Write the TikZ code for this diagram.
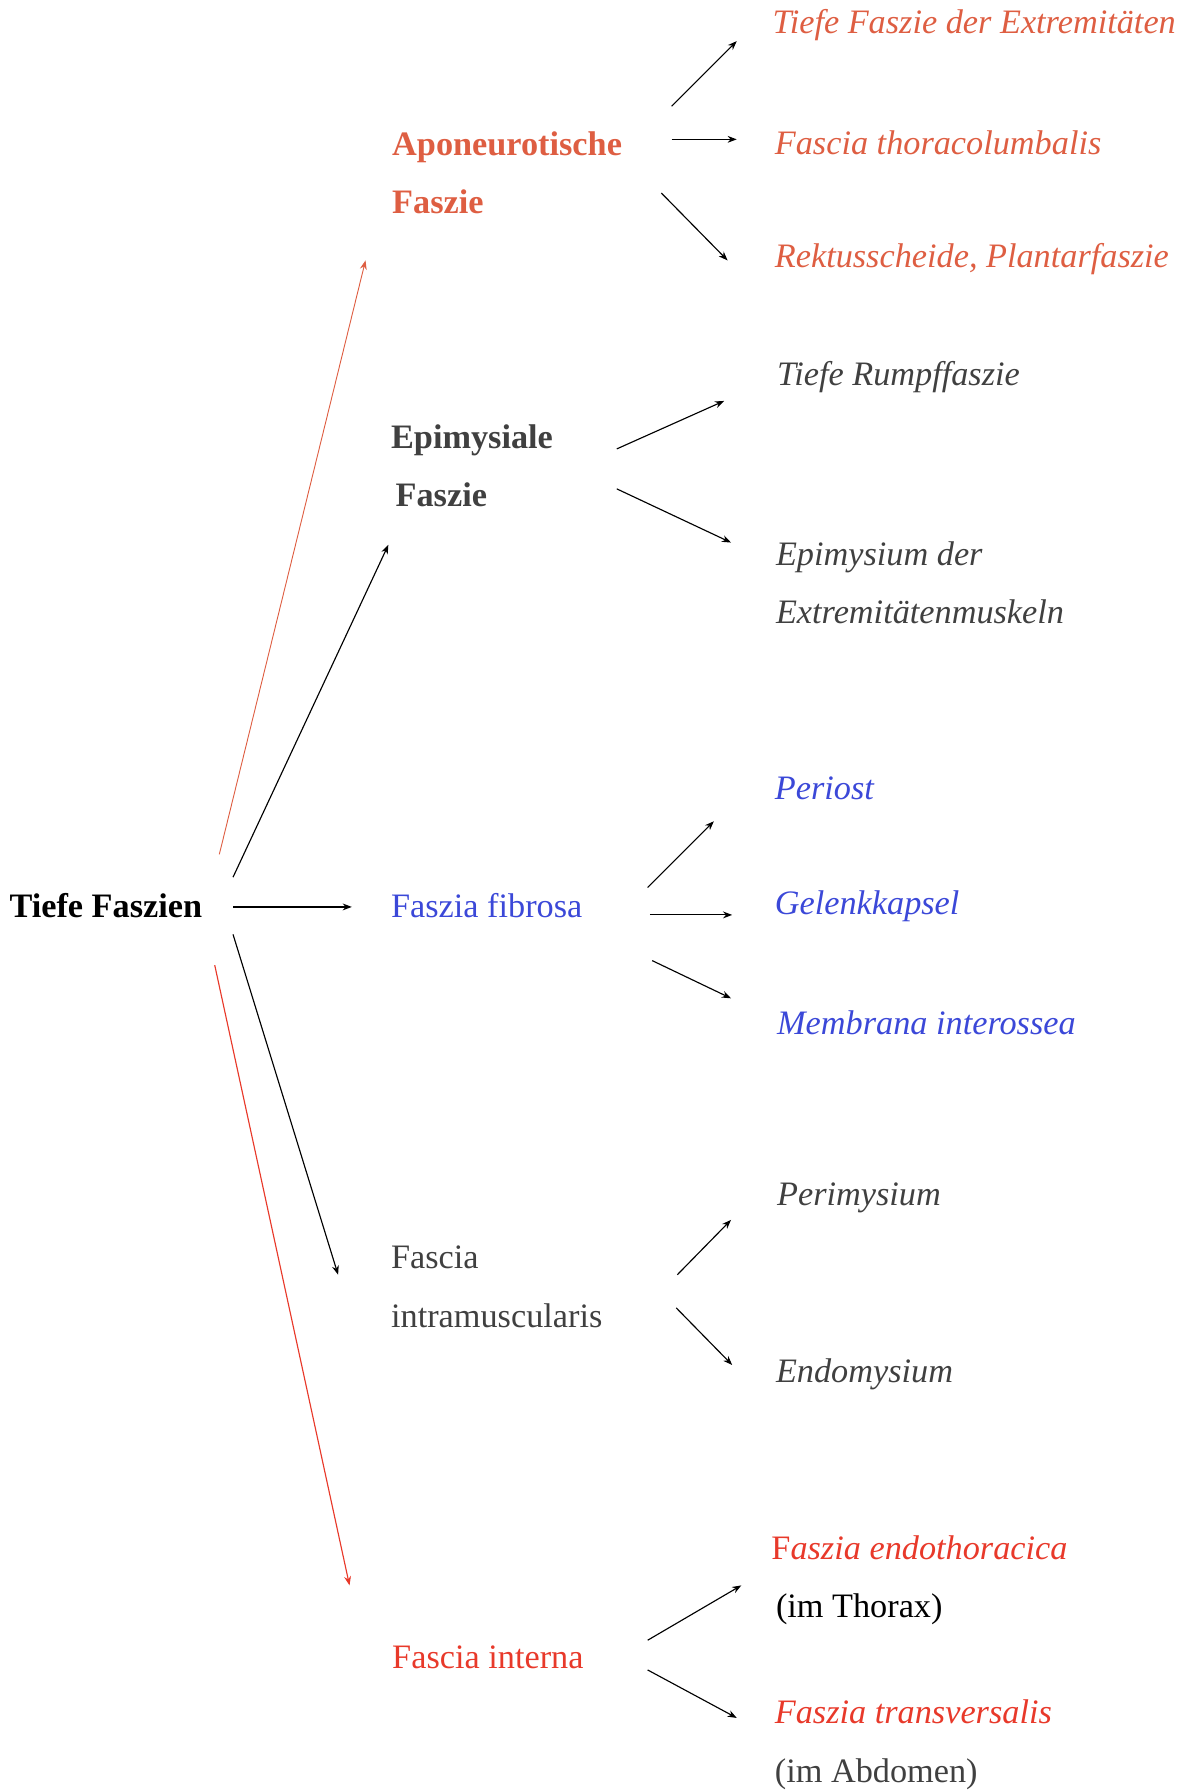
\documentclass[tikz,border=0pt]{standalone}
\usepackage{fontspec}
\setmainfont{Liberation Serif}
\usetikzlibrary{arrows.meta}
\definecolor{aporange}{RGB}{222,94,66}
\definecolor{intred}{RGB}{232,57,42}
\definecolor{fibblue}{RGB}{59,72,216}
\definecolor{epigray}{RGB}{64,64,64}
\tikzset{
>={Stealth[length=4pt,width=3pt]}, % small filled arrow heads
arr/.style={->, line width=0.5pt}, % every connector
lbl/.style={anchor=west, inner sep=0pt, align=left, font=\fontsize{15}{25.5}\selectfont}, % every text
sub/.style={lbl, font=\fontsize{15}{25.5}\selectfont\itshape}, % right column
}

\begin{document}
\begin{tikzpicture}[x=0.5pt, y=-0.5pt]
\useasboundingbox (0,0) rectangle (1050,1568);

% first column
\node[lbl, font=\fontsize{15}{25.5}\selectfont\bfseries] (root) at (8,793) {Tiefe Faszien};

% second column
\node[lbl, aporange, font=\fontsize{15}{25.5}\selectfont\bfseries] (apo) at (343,151.5) {Aponeurotische\\Faszie};
\node[lbl, epigray, font=\fontsize{15}{25.5}\selectfont\bfseries] (epi) at (342,408) {Epimysiale\\\hspace*{2pt}Faszie};
\node[lbl, fibblue] (fib) at (342,793) {Faszia fibrosa};
\node[lbl, epigray] (intra) at (342,1126.5) {Fascia\\intramuscularis};
\node[lbl, intred] (interna) at (343,1451) {Fascia interna};

% third column
\node[sub, aporange] (t1) at (676,22) {Tiefe Faszie der Extremitäten};
\node[sub, aporange] (t2) at (678,125) {Fascia thoracolumbalis};
\node[sub, aporange] (t3) at (678,227) {Rektusscheide, Plantarfaszie};
\node[sub, epigray] (e1) at (680,330) {Tiefe Rumpffaszie};
\node[sub, epigray] (e2) at (679,510) {Epimysium der\\Extremitätenmuskeln};
\node[sub, fibblue] (f1) at (678,690) {Periost};
\node[sub, fibblue] (f2) at (678,793) {Gelenkkapsel};
\node[sub, fibblue] (f3) at (680,895) {Membrana interossea};
\node[sub, epigray] (i1) at (680,1049) {Perimysium};
\node[sub, epigray] (i2) at (679,1203) {Endomysium};
\node[lbl] (n1) at (675,1383.5) {{\color{intred}F\itshape aszia endothoracica}\\\hspace*{2pt}(im Thorax)};
\node[lbl, epigray] (n2) at (678,1527.5) {{\color{intred}\itshape Faszia transversalis}\\(im Abdomen)};

% root to second column
\draw[arr, aporange, line width=0.4pt] ([shift={(184,-45)}]root.west) -- ([shift={(-23,76.5)}]apo.west);
\draw[arr] ([shift={(196,-25)}]root.west) -- ([shift={(-2,69)}]epi.west);
\draw[arr] ([shift={(196,1)}]root.west) -- ([shift={(-34,1)}]fib.west);
\draw[arr] ([shift={(196,25)}]root.west) -- ([shift={(-46,-10.5)}]intra.west);
\draw[arr, intred] ([shift={(180,52)}]root.west) -- ([shift={(-37,-63)}]interna.west);

% second to third column
\draw[arr] ([shift={(245,-58.5)}]apo.west) -- ([shift={(-31,14)}]t1.west);
\draw[arr] ([shift={(245,-29.5)}]apo.west) -- ([shift={(-33,-3)}]t2.west);
\draw[arr] ([shift={(236,17.5)}]apo.west) -- ([shift={(-41,1)}]t3.west);
\draw[arr] ([shift={(198,-15)}]epi.west) -- ([shift={(-46,21)}]e1.west);
\draw[arr] ([shift={(198,20)}]epi.west) -- ([shift={(-39,-35)}]e2.west);
\draw[arr] ([shift={(225,-16)}]fib.west) -- ([shift={(-53,29)}]f1.west);
\draw[arr] ([shift={(227,8)}]fib.west) -- ([shift={(-37,8)}]f2.west);
\draw[arr] ([shift={(229,48)}]fib.west) -- ([shift={(-40,-21)}]f3.west);
\draw[arr] ([shift={(251,-10.5)}]intra.west) -- ([shift={(-40,19)}]i1.west);
\draw[arr] ([shift={(250,18.5)}]intra.west) -- ([shift={(-38,-8)}]i2.west);
\draw[arr] ([shift={(224,-15)}]interna.west) -- ([shift={(-26,4.5)}]n1.west);
\draw[arr] ([shift={(224,11)}]interna.west) -- ([shift={(-33,-23.5)}]n2.west);
\end{tikzpicture}
\end{document}
